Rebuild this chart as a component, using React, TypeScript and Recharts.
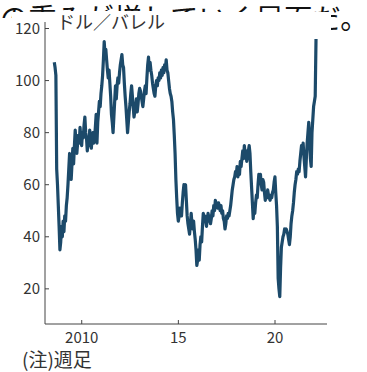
import React from 'react';
import { LineChart, Line, XAxis, YAxis } from 'recharts';

// 週足の価格（半月ごとに読み取り）、2008年8月から
const startYear = 2008.58;
const p2008 = [107, 105, 102, 66, 60, 52, 44, 35, 38, 44];
const p2009 = [40, 46, 42, 48, 46, 52, 55, 60, 66, 72, 64, 62, 68, 74, 68, 75, 81, 76, 72, 76, 79, 76, 82, 78];
const p2010 = [75, 80, 78, 83, 86, 80, 78, 73, 77, 75, 81, 77, 74, 78, 80, 76, 78, 82, 87, 76, 84, 88, 92, 90];
const p2011 = [95, 98, 102, 108, 115, 110, 112, 108, 104, 101, 104, 99, 94, 87, 84, 80, 86, 92, 98, 93, 98, 101, 99, 103];
const p2012 = [106, 108, 110, 106, 105, 99, 94, 90, 85, 80, 84, 88, 91, 95, 98, 94, 90, 86, 88, 90, 93, 88, 91, 95];
const p2013 = [97, 96, 94, 92, 90, 93, 96, 98, 95, 101, 106, 109, 104, 107, 104, 102, 99, 97, 95, 94, 98, 100, 98, 101];
const p2014 = [100, 103, 101, 104, 102, 105, 103, 106, 105, 108, 104, 103, 100, 97, 95, 94, 92, 88, 85, 79, 72, 62, 55, 49];
const p2015 = [46, 48, 51, 49, 48, 53, 57, 60, 58, 60, 54, 48, 45, 43, 41, 45, 49, 45, 43, 46, 42, 39, 35, 29];
const p2016 = [31, 35, 31, 37, 40, 38, 44, 49, 47, 48, 46, 44, 47, 49, 46, 48, 45, 47, 50, 48, 52, 50, 54, 52];
const p2017 = [53, 51, 53, 52, 50, 52, 49, 50, 47, 46, 43, 45, 48, 47, 49, 48, 50, 52, 55, 58, 60, 62, 63, 65];
const p2018 = [64, 67, 63, 66, 64, 69, 67, 70, 73, 70, 75, 72, 73, 69, 71, 73, 75, 72, 65, 59, 53, 47, 52, 49];
const p2019 = [53, 56, 55, 60, 64, 62, 64, 60, 58, 62, 61, 57, 54, 57, 55, 58, 56, 55, 54, 56, 55, 57, 58, 61];
const p2020 = [63, 57, 52, 44, 24, 20, 17, 28, 36, 38, 40, 41, 43, 42, 43, 42, 41, 39, 37, 40, 45, 48, 50, 53];
const p2021 = [57, 60, 62, 65, 64, 66, 65, 69, 72, 75, 72, 76, 71, 67, 63, 70, 76, 80, 84, 78, 70, 67, 80, 85];
const p2022 = [90, 92, 94, 116];

const xTicks = [2010, 2015, 2020];
const xTickLabels = ['2010', '15', '20'];
const yTicks = [20, 40, 60, 80, 100, 120];

const prices = [
  ...p2008, ...p2009, ...p2010, ...p2011, ...p2012, ...p2013, ...p2014,
  ...p2015, ...p2016, ...p2017, ...p2018, ...p2019, ...p2020, ...p2021, ...p2022,
];
const data = prices.map((price, i) => ({ t: startYear + i / 24, price }));

const FONT = '"Noto Sans CJK JP", "Noto Sans", sans-serif';
const tickStyle = { fill: '#333', fontSize: 15, fontFamily: FONT };

export default function App() {
  return (
    <div style={{ position: 'absolute', left: 0, top: 0, width: 367, height: 372, background: '#fff', overflow: 'hidden', fontFamily: FONT }}>
      {/* 上の本文（切れている） */}
      <div style={{ position: 'absolute', left: 0, top: 3, fontSize: 28, lineHeight: '28px', letterSpacing: 0.5, color: '#111', whiteSpace: 'nowrap' }}>
        の重みが増していく局面だ。
      </div>
      <div style={{ position: 'absolute', left: 12, top: 12, width: 319, height: 360, background: '#fff' }} />
      <div style={{ position: 'absolute', left: 0, top: 18, width: 331, height: 354, background: '#fff' }} />

      <div style={{ position: 'absolute', left: 0, top: 0 }}>
        <LineChart width={367} height={372} data={data} margin={{ top: 22, right: 40, bottom: 0, left: 0 }}>
          <XAxis
            dataKey="t"
            type="number"
            domain={[2008.1, 2022.69]}
            allowDataOverflow
            ticks={xTicks}
            tickFormatter={(v: number) => xTickLabels[xTicks.indexOf(v)]}
            height={48}
            tickSize={-4}
            tickMargin={12}
            stroke="#444"
            tick={tickStyle}
          />
          <YAxis
            type="number"
            domain={[6.5, 122.5]}
            allowDataOverflow
            ticks={yTicks}
            width={45}
            tickSize={-4}
            tickMargin={9}
            stroke="#444"
            tick={tickStyle}
          />
          <Line
            type="linear"
            dataKey="price"
            stroke="#1c4a6a"
            strokeWidth={3.2}
            strokeLinejoin="round"
            dot={false}
            isAnimationActive={false}
          />
        </LineChart>
      </div>

      <div style={{ position: 'absolute', left: 57, top: 11, fontSize: 18, lineHeight: '20px', color: '#333', whiteSpace: 'nowrap', background: '#fff' }}>
        ドル／バレル
      </div>
      <div style={{ position: 'absolute', left: 22, top: 348, fontSize: 19, lineHeight: '22px', color: '#333', whiteSpace: 'nowrap' }}>
        (注)週足
      </div>
    </div>
  );
}
